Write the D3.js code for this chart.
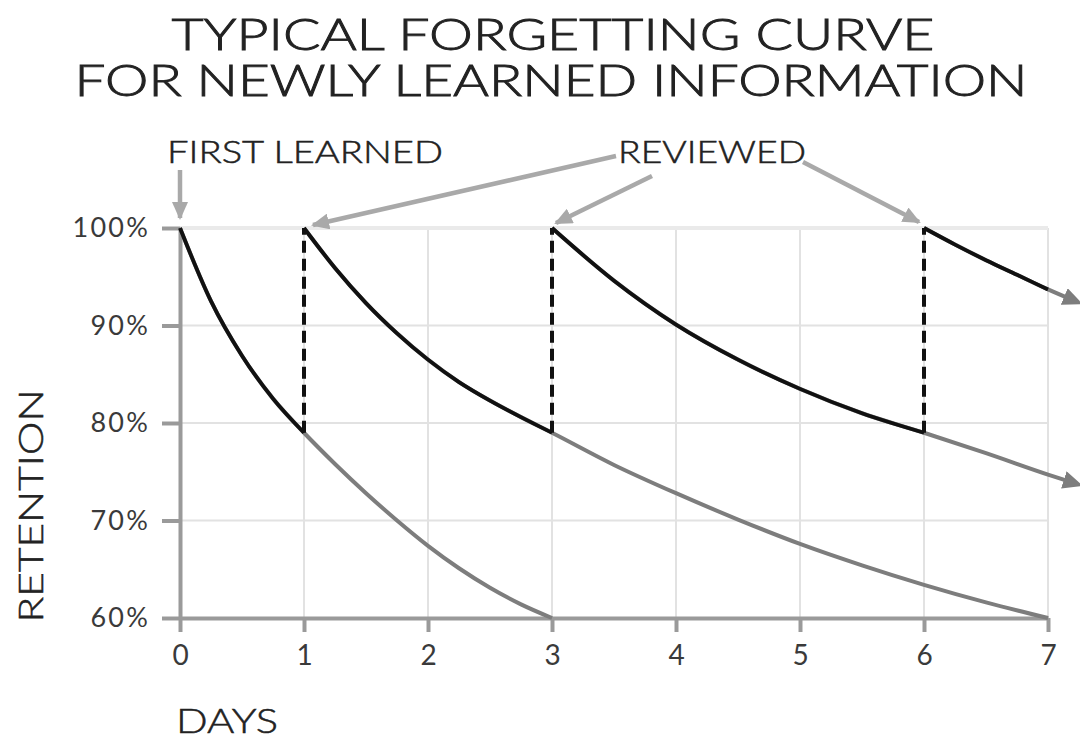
<!DOCTYPE html>
<html>
<head>
<meta charset="utf-8">
<script src="https://cdn.jsdelivr.net/npm/d3@7"></script>
<style>
  body { margin: 0; background: #fff; }
  text { font-family: Lato, "Open Sans", sans-serif; }
</style>
</head>
<body>
<svg width="1080" height="741"></svg>
<script>
// retention (%), [day, retention]
var learned = [[0,100],[0.25,92.5],[0.5,86.9],[0.75,82.5],[1,79],[1.25,75.8],[1.5,72.8],[1.75,70],[2,67.4],[2.25,65.1],[2.5,63.1],[2.75,61.4],[3,60]];
var review1 = [[1,100],[1.25,95.9],[1.5,92.3],[1.75,89.2],[2,86.5],[2.25,84.2],[2.5,82.3],[2.75,80.6],[3,79],[3.5,75.7],[4,72.8],[4.5,70.1],[5,67.6],[5.5,65.4],[6,63.4],[6.5,61.6],[7,60]];
var review2 = [[3,100],[3.5,94.6],[4,90.1],[4.5,86.5],[5,83.5],[5.5,81],[6,79],[6.5,76.9],[7,74.7],[7.22,73.8]];
var review3 = [[6,100],[6.25,98.3],[6.5,96.7],[6.75,95.2],[7,93.7],[7.22,92.5]];

var curves = [learned, review1, review2, review3];
var reviewedUntil = [1, 3, 6, 7];   // black part of each curve ends here
var reviewDays = [1, 3, 6];
var arrowCurves = [2, 3];           // curves that run off with an arrow

var dayTicks = [0, 1, 2, 3, 4, 5, 6, 7];
var retentionTicks = [60, 70, 80, 90, 100];

var svg = d3.select('svg');

var x = d3.scaleLinear().domain([0, 7]).range([180, 1048]);
var y = d3.scaleLinear().domain([60, 100]).range([618, 228]);

var line = d3.line()
	.x(function(d) { return x(d[0]); })
	.y(function(d) { return y(d[1]); })
	.curve(d3.curveMonotoneX);

var defs = svg.append('defs');
defs.append('marker')
	.attr('id', 'tip')
	.attr('markerUnits', 'userSpaceOnUse')
	.attr('viewBox', '0 0 20 18')
	.attr('refX', 12).attr('refY', 9)
	.attr('markerWidth', 20).attr('markerHeight', 18)
	.attr('orient', 'auto')
	.append('path').attr('d', 'M0,0L20,9L0,18Z').attr('fill', '#7d7d7d');
defs.append('marker')
	.attr('id', 'note')
	.attr('markerUnits', 'userSpaceOnUse')
	.attr('viewBox', '0 0 18 16')
	.attr('refX', 16).attr('refY', 8)
	.attr('markerWidth', 18).attr('markerHeight', 16)
	.attr('orient', 'auto')
	.append('path').attr('d', 'M0,0L18,8L0,16Z').attr('fill', '#a9a9a9');

// grid
var grid = svg.append('g').attr('class', 'grid');
grid.selectAll('line.v')
	.data(dayTicks.slice(1))
	.enter().append('line')
	.attr('x1', function(d) { return x(d); })
	.attr('x2', function(d) { return x(d); })
	.attr('y1', y(100)).attr('y2', y(60))
	.attr('stroke', '#e2e2e2').attr('stroke-width', 2);
grid.selectAll('line.h')
	.data(retentionTicks.slice(1))
	.enter().append('line')
	.attr('x1', x(0)).attr('x2', x(7))
	.attr('y1', function(d) { return y(d); })
	.attr('y2', function(d) { return y(d); })
	.attr('stroke', function(d) { return d === 100 ? '#eaeaea' : '#e2e2e2'; })
	.attr('stroke-width', function(d) { return d === 100 ? 4 : 2; });

// axes
var xAxis = svg.append('g')
	.attr('transform', 'translate(0,' + y(60) + ')')
	.call(d3.axisBottom(x).tickValues(dayTicks).tickFormat(d3.format('d'))
		.tickSize(14).tickSizeOuter(0).tickPadding(8));
var yAxis = svg.append('g')
	.attr('transform', 'translate(' + x(0) + ',0)')
	.call(d3.axisLeft(y).tickValues(retentionTicks).tickSize(18).tickSizeOuter(0).tickPadding(12)
		.tickFormat(function(d) { return d + '%'; }));

[xAxis, yAxis].forEach(function(a) {
	a.select('.domain').attr('stroke', '#9a9a9a').attr('stroke-width', 4);
	a.selectAll('.tick line').attr('stroke', '#9a9a9a').attr('stroke-width', 4);
	a.selectAll('.tick text').attr('fill', '#3a3a3a').attr('font-family', 'Lato, sans-serif');
});
xAxis.selectAll('.tick text').attr('font-size', 28).attr('dy', '0.9em');
yAxis.selectAll('.tick text').attr('font-size', 27).attr('letter-spacing', 2.2);

// grey forgetting curves
svg.append('g').selectAll('path')
	.data(curves)
	.enter().append('path')
	.attr('d', line)
	.attr('fill', 'none')
	.attr('stroke', '#7d7d7d')
	.attr('stroke-width', 4)
	.attr('marker-end', function(d, i) { return arrowCurves.indexOf(i) >= 0 ? 'url(#tip)' : null; });

// black part, until next review
svg.append('g').selectAll('path')
	.data(curves)
	.enter().append('path')
	.attr('d', function(d, i) {
		return line(d.filter(function(p) { return p[0] <= reviewedUntil[i]; }));
	})
	.attr('fill', 'none')
	.attr('stroke', '#111')
	.attr('stroke-width', 3.8)
	.attr('stroke-linejoin', 'round');

// dashed jumps back to 100%
svg.append('g').selectAll('line')
	.data(reviewDays)
	.enter().append('line')
	.attr('x1', function(d) { return x(d); })
	.attr('x2', function(d) { return x(d); })
	.attr('y1', function(d, i) {
		var p = curves[i].filter(function(q) { return q[0] === d; })[0];
		return y(p[1]);
	})
	.attr('y2', y(100))
	.attr('stroke', '#111')
	.attr('stroke-width', 4)
	.attr('stroke-dasharray', '12,6');

// titles and labels
function label(text, px, py, size, len, stroke) {
	return svg.append('text')
		.attr('x', px).attr('y', py)
		.attr('font-size', size).attr('font-weight', 300)
		.attr('fill', '#222').attr('stroke', '#222').attr('stroke-width', stroke)
		.attr('textLength', len).attr('lengthAdjust', 'spacingAndGlyphs')
		.text(text);
}
label('TYPICAL FORGETTING CURVE', 553, 50, 44, 763, 0.9).attr('text-anchor', 'middle');
label('FOR NEWLY LEARNED INFORMATION', 551, 96, 44, 953, 0.9).attr('text-anchor', 'middle');
label('FIRST LEARNED', 167, 163, 31, 276, 0.5);
label('REVIEWED', 618, 163, 31, 188, 0.5);
label('RETENTION', 0, 0, 33, 233, 0.5)
	.attr('text-anchor', 'middle')
	.attr('transform', 'translate(43,506) rotate(-90)');
label('DAYS', 176, 733, 33, 102, 0.5);

// annotation arrows
var notes = [
	{ from: [180, 170], to: [x(0), y(100) - 10] },
	{ from: [616, 156], to: [x(1) + 9, y(100) - 3] },
	{ from: [652, 176], to: [x(3) + 4, y(100) - 5] },
	{ from: [803, 162], to: [x(6) - 5, y(100) - 6] }
];
svg.append('g').selectAll('line')
	.data(notes)
	.enter().append('line')
	.attr('x1', function(d) { return d.from[0]; })
	.attr('y1', function(d) { return d.from[1]; })
	.attr('x2', function(d) { return d.to[0]; })
	.attr('y2', function(d) { return d.to[1]; })
	.attr('stroke', '#a9a9a9')
	.attr('stroke-width', 4.5)
	.attr('marker-end', 'url(#note)');
</script>
</body>
</html>
